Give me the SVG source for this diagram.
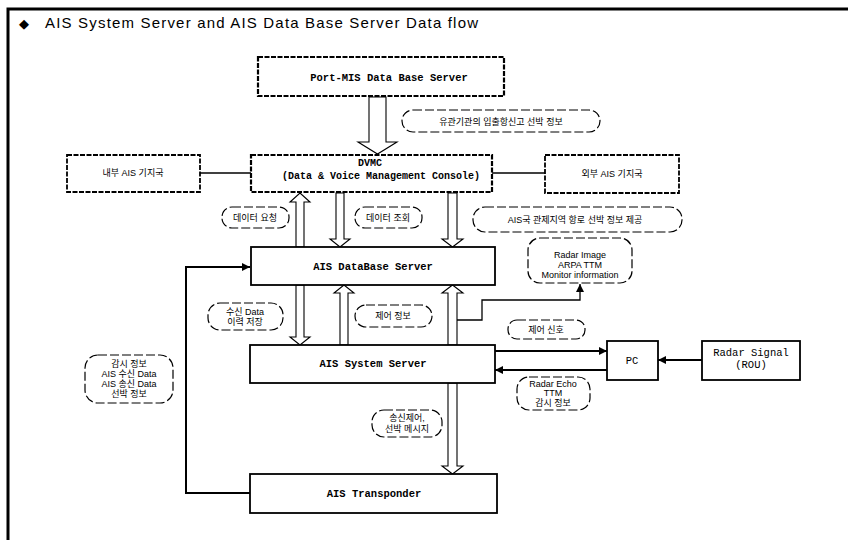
<svg xmlns="http://www.w3.org/2000/svg" width="851" height="540" viewBox="0 0 851 540">
<defs>
<style>
.page{stroke:#000;stroke-width:3;fill:none}
.box{fill:#fff;stroke:#000;stroke-width:1.8}
.dbox{fill:#fff;stroke:#000;stroke-width:1.8;stroke-dasharray:5 1.5}
.pill{fill:#fff;stroke:#000;stroke-width:1.2;stroke-dasharray:9 3}
.hollow{fill:#fff;stroke:#000;stroke-width:1.1}
.line{fill:none;stroke:#000;stroke-width:2}
.thin{fill:none;stroke:#000;stroke-width:1.3}
.bl{font-family:"Liberation Mono","DejaVu Sans Mono",monospace;font-weight:bold;font-size:10.5px;fill:#000;text-anchor:middle}
.lab{font-family:"Liberation Sans","Noto Sans CJK KR",sans-serif;font-size:9px;fill:#000;text-anchor:middle}
.mono{font-family:"Liberation Mono","DejaVu Sans Mono",monospace;font-size:10.5px;fill:#000;text-anchor:middle}
.title{font-family:"Liberation Sans",Arial,sans-serif;font-size:15px;fill:#000}
</style>
<marker id="ah" viewBox="0 0 10 10" refX="10" refY="5" markerWidth="8" markerHeight="8" markerUnits="userSpaceOnUse" orient="auto">
<path d="M0,0 L10,5 L0,10 z" fill="#000"/>
</marker>
</defs>
<rect width="851" height="540" fill="#fff"/>
<path class="page" d="M8,540 V9 H848"/>
<text x="19" y="28" style="font-family:'DejaVu Sans',sans-serif;font-size:13px">◆</text>
<text class="title" x="45" y="28" textLength="433" lengthAdjust="spacing">AIS System Server and AIS Data Base Server Data flow</text>

<g id="connectors">
<polygon class="hollow" points="369,97 386,97 386,142 397,142 377.5,154 358,142 369,142"/>
<polygon class="hollow" points="296,247 304,247 304,202 310,202 300,193 290,202 296,202"/>
<polygon class="hollow" points="336,193 344,193 344,239 350,239 340,247 330,239 336,239"/>
<polygon class="hollow" points="448,193 457,193 457,239 463,239 452.5,247 442,239 448,239"/>
<polygon class="hollow" points="296,285 304,285 304,337 310,337 300,345 290,337 296,337"/>
<polygon class="hollow" points="340,345 348,345 348,293 354,293 344,285 334,293 340,293"/>
<polygon class="hollow" points="448,345 457,345 457,293 463,293 452.5,285 442,293 448,293"/>
<polygon class="hollow" points="448,383 457,383 457,466 463,466 452.5,474 442,466 448,466"/>
<path class="thin" d="M200,173 H251"/>
<path class="thin" d="M492,173 H545"/>
<path class="line" d="M250,493 H186 V267 H250" marker-end="url(#ah)"/>
<path class="thin" d="M457,320 H482 V300 H580 V284" marker-end="url(#ah)"/>
<path class="line" d="M495,351 H607" marker-end="url(#ah)"/>
<path class="line" d="M607,370 H495" marker-end="url(#ah)"/>
<path class="line" d="M702,360 H658" marker-end="url(#ah)"/>
</g>

<g id="port-mis">
<rect class="dbox" x="258" y="57" width="246" height="39" style="stroke-width:2.2"/>
<text class="bl" x="389" y="81">Port-MIS Data Base Server</text>
</g>
<g id="dvmc">
<rect class="dbox" x="251" y="155" width="241" height="37" style="stroke-width:2.2"/>
<text class="bl" x="370" y="166" style="font-size:10px">DVMC</text>
<text class="bl" x="381" y="179" style="font-size:10px">(Data &amp; Voice Management Console)</text>
</g>
<g id="left-station">
<rect class="dbox" x="67" y="155" width="133" height="37"/>
<text class="lab" x="133" y="176">내부 AIS 기지국</text>
</g>
<g id="right-station">
<rect class="dbox" x="545" y="155" width="134" height="38"/>
<text class="lab" x="612" y="177">외부 AIS 기지국</text>
</g>
<g id="db-server">
<rect class="box" x="251" y="247" width="244" height="38"/>
<text class="bl" x="373" y="270">AIS DataBase Server</text>
</g>
<g id="system-server">
<rect class="box" x="250" y="345" width="245" height="38"/>
<text class="bl" x="373" y="367">AIS System Server</text>
</g>
<g id="transponder">
<rect class="box" x="250" y="474" width="247" height="39"/>
<text class="bl" x="374" y="497">AIS Transponder</text>
</g>
<g id="pc">
<rect class="box" x="607" y="341" width="51" height="39"/>
<text class="mono" x="632" y="364">PC</text>
</g>
<g id="radar-signal">
<rect class="box" x="702" y="341" width="98" height="39"/>
<text class="mono" x="751" y="356">Radar Signal</text>
<text class="mono" x="751" y="368">(ROU)</text>
</g>

<g id="label-port">
<rect class="pill" x="402" y="110" width="198" height="22" rx="11"/>
<text class="lab" x="501" y="124.5">유관기관의 입출항신고 선박 정보</text>
</g>
<g id="label-req">
<rect class="pill" x="222" y="207" width="67" height="21" rx="10"/>
<text class="lab" x="255" y="221">데이터 요청</text>
</g>
<g id="label-query">
<rect class="pill" x="355" y="207" width="67" height="21" rx="10"/>
<text class="lab" x="388" y="221">데이터 조회</text>
</g>
<g id="label-ais">
<rect class="pill" x="473" y="207" width="209" height="25" rx="12"/>
<text class="lab" x="575" y="223">AIS국 관제지역 항로 선박 정보 제공</text>
</g>
<g id="label-radar-image">
<rect class="pill" x="528" y="238" width="104" height="45" rx="12"/>
<text class="lab" x="580" y="258">Radar Image</text>
<text class="lab" x="580" y="268">ARPA TTM</text>
<text class="lab" x="580" y="278">Monitor information</text>
</g>
<g id="label-recv">
<rect class="pill" x="208" y="303" width="75" height="27" rx="12"/>
<text class="lab" x="245" y="315">수신 Data</text>
<text class="lab" x="245" y="325">이력 저장</text>
</g>
<g id="label-ctrl">
<rect class="pill" x="355" y="305" width="77" height="22" rx="11"/>
<text class="lab" x="393" y="319">제어 정보</text>
</g>
<g id="label-ctrl-signal">
<rect class="pill" x="508" y="320" width="77" height="19" rx="9"/>
<text class="lab" x="546" y="333">제어 신호</text>
</g>
<g id="label-echo">
<rect class="pill" x="517" y="377" width="73" height="33" rx="12"/>
<text class="lab" x="553" y="387">Radar Echo</text>
<text class="lab" x="553" y="396">TTM</text>
<text class="lab" x="553" y="406">감시 정보</text>
</g>
<g id="label-tx">
<rect class="pill" x="372" y="410" width="70" height="27" rx="12"/>
<text class="lab" x="407" y="421">송신제어,</text>
<text class="lab" x="407" y="432">선박 메시지</text>
</g>
<g id="label-monitor">
<rect class="pill" x="85" y="355" width="88" height="48" rx="13"/>
<text class="lab" x="129" y="367">감시 정보</text>
<text class="lab" x="129" y="377">AIS 수신 Data</text>
<text class="lab" x="129" y="387">AIS 송신 Data</text>
<text class="lab" x="129" y="397">선박 정보</text>
</g>
</svg>
